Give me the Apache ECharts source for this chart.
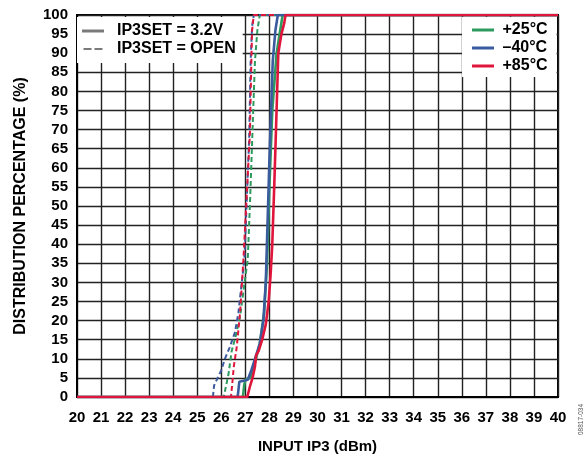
<!DOCTYPE html>
<html>
<head>
<meta charset="utf-8">
<script src="https://cdn.jsdelivr.net/npm/echarts@6/dist/echarts.min.js"></script>
<style>html,body{margin:0;padding:0;background:#fff}#c{width:588px;height:459px}</style>
</head>
<body>
<div id="c"></div>
<script>
// Data (x = INPUT IP3 dBm, y = distribution %)
const green32 = [[20,0],[26.9,0],[26.95,3],[27.0,4.5],[27.2,5],[27.4,9],[27.6,14],[27.78,22],[27.9,35],[28.0,55],[28.12,75],[28.3,90],[28.45,96],[28.55,100],[40,100]];
const blue32  = [[20,0],[26.68,0],[26.75,4],[26.8,4.5],[27.1,4.5],[27.25,7],[27.4,10],[27.6,14],[27.75,20],[27.85,30],[27.92,45],[28.0,62],[28.14,88],[28.25,96],[28.35,100],[40,100]];
const red32   = [[20,0],[27.08,0],[27.2,3],[27.3,5],[27.4,8],[27.45,11],[27.55,12],[27.7,15],[27.85,19],[27.97,25],[28.05,32],[28.12,40],[28.2,55],[28.25,65],[28.37,90],[28.5,95],[28.62,98],[28.67,100],[40,100]];
const greenOpen = [[20,0],[26.1,0],[26.2,3],[26.3,6],[26.43,12],[26.6,16],[26.78,21],[26.99,31],[27.1,36],[27.2,52],[27.3,70],[27.4,88],[27.5,96],[27.6,100],[40,100]];
const blueOpen  = [[20,0],[25.65,0],[25.7,3],[25.85,5],[26.0,7],[26.15,10],[26.35,13],[26.57,17],[26.71,22],[26.85,30],[26.96,36],[27.05,50],[27.16,68],[27.22,88],[27.28,97],[27.35,100],[40,100]];
const redOpen   = [[20,0],[26.4,0],[26.45,3],[26.52,8],[26.64,13],[26.78,22],[26.92,36],[27.05,52],[27.19,69],[27.25,88],[27.28,96],[27.35,100],[40,100]];

const xMin = 20, xMax = 40, xStep = 1;
const yMin = 0, yMax = 100, yStep = 5;
const styleNames = ['IP3SET = 3.2V', 'IP3SET = OPEN'];
const tempNames = ['+25°C', '–40°C', '+85°C'];
const xTitle = 'INPUT IP3 (dBm)';
const yTitle = 'DISTRIBUTION PERCENTAGE (%)';
const figId = '08817-034';

const GREEN = '#2f9a5e', BLUE = '#3b5b9f', RED = '#e0153b', GREY = '#7a7a7a';
const FONT = 'Liberation Sans, Arial, sans-serif';
const ICON_SOLID = 'path://M0,0H22V3H0Z';
const ICON_DASH = 'path://M0,0.5H8V2.5H0Z M11,0.5H19V2.5H11Z M0,0H0.01V0.01H0Z M0,3H0.01V3.01H0Z';

function sol(name, data, color) {
  return {name, type:'line', data, symbol:'none', showSymbol:false, animation:false,
    lineStyle:{color, width:2.6}, itemStyle:{color}, z:3};
}
function dash(name, data, color) {
  return {name, type:'line', data, symbol:'none', showSymbol:false, animation:false,
    lineStyle:{color, width:2, type:[5,3]}, itemStyle:{color}, z:2};
}

const chart = echarts.init(document.getElementById('c'), null, {renderer:'canvas'});
chart.setOption({
  animation:false,
  backgroundColor:'#fff',
  grid:{left:77, right:30, top:15, bottom:60, show:true, borderColor:'#000', borderWidth:2, backgroundColor:'transparent'},
  xAxis:{type:'value', min:xMin, max:xMax, interval:xStep,
    name:xTitle, nameLocation:'middle', nameGap:42,
    nameTextStyle:{fontFamily:FONT, fontWeight:'bold', fontSize:15, color:'#000'},
    axisLine:{show:true, lineStyle:{color:'#000', width:2}},
    axisTick:{show:false},
    axisLabel:{fontFamily:FONT, fontWeight:'bold', fontSize:15, color:'#000', margin:13},
    splitLine:{show:true, lineStyle:{color:'#222', width:1.4}}},
  yAxis:{type:'value', min:yMin, max:yMax, interval:yStep,
    name:yTitle, nameLocation:'middle', nameGap:48,
    nameTextStyle:{fontFamily:FONT, fontWeight:'bold', fontSize:16, color:'#000'},
    axisLine:{show:true, lineStyle:{color:'#000', width:2}},
    axisTick:{show:false},
    axisLabel:{fontFamily:FONT, fontWeight:'bold', fontSize:15, color:'#000', margin:9},
    splitLine:{show:true, lineStyle:{color:'#222', width:1.4}}},
  legend:[
    {data:[{name:styleNames[0], icon:ICON_SOLID},{name:styleNames[1], icon:ICON_DASH}],
     orient:'vertical', left:77, top:17, backgroundColor:'#fff',
     padding:[6,7,6,5], itemGap:2, itemWidth:22, itemHeight:3,
     textStyle:{fontFamily:FONT, fontWeight:'bold', fontSize:16, color:'#000', padding:[0,0,0,8]}},
    {data:tempNames.map(n => ({name:n, icon:ICON_SOLID})),
     orient:'vertical', left:462, top:17, backgroundColor:'#fff',
     padding:[5,9,3,10], itemGap:2, itemWidth:23, itemHeight:3,
     textStyle:{fontFamily:FONT, fontWeight:'bold', fontSize:16, color:'#000', padding:[0,0,0,3]}}
  ],
  graphic:[{type:'text', x:581, y:435, rotation:Math.PI/2,
    style:{text:figId, font:'6.5px '+FONT, fill:'#555', textVerticalAlign:'middle', textAlign:'left'}}],
  series:[
    {name:styleNames[0], type:'line', data:[], symbol:'none', lineStyle:{color:GREY, width:3}, itemStyle:{color:GREY}},
    {name:styleNames[1], type:'line', data:[], symbol:'none', lineStyle:{color:GREY, width:2, type:[5,4]}, itemStyle:{color:GREY}},
    {name:tempNames[0], type:'line', data:[], symbol:'none', lineStyle:{color:GREEN, width:3}, itemStyle:{color:GREEN}},
    {name:tempNames[1], type:'line', data:[], symbol:'none', lineStyle:{color:BLUE, width:3}, itemStyle:{color:BLUE}},
    {name:tempNames[2], type:'line', data:[], symbol:'none', lineStyle:{color:RED, width:3}, itemStyle:{color:RED}},
    dash('g_open', greenOpen, GREEN),
    dash('b_open', blueOpen, BLUE),
    dash('r_open', redOpen, RED),
    sol('g_32', green32, GREEN),
    sol('b_32', blue32, BLUE),
    sol('r_32', red32, RED)
  ]
});
</script>
</body>
</html>
